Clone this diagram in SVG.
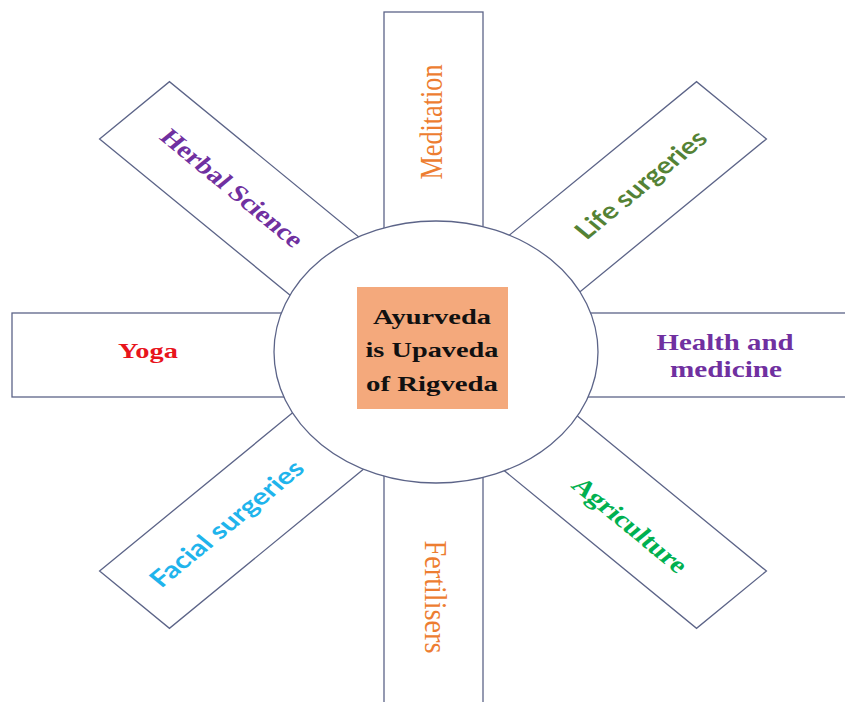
<svg xmlns="http://www.w3.org/2000/svg" width="845" height="702" viewBox="0 0 845 702">
<style>
.box{fill:#fff;stroke:#5C6488;stroke-width:1.3}
.ns{vector-effect:non-scaling-stroke}
.serif{font-family:"Liberation Serif","Times New Roman",serif}
.sans{font-family:Lato,"Liberation Sans",sans-serif}
.b{font-weight:bold}
.c{text-anchor:middle;dominant-baseline:central}
</style>
<rect width="845" height="702" fill="#fff"/>
<g id="meditation">
<rect class="box" x="384" y="12" width="99" height="250"/>
<text class="serif c" font-size="26" fill="#ED7D31" textLength="115" lengthAdjust="spacingAndGlyphs" transform="translate(431,122) scale(1.22,1) rotate(-90)">Meditation</text>
</g>
<g id="fertilisers">
<rect class="box" x="384" y="440" width="99" height="280"/>
<text class="serif c" font-size="26" fill="#ED7D31" textLength="113" lengthAdjust="spacingAndGlyphs" transform="translate(436,597) scale(1.22,1) rotate(90)">Fertilisers</text>
</g>
<g id="yoga">
<rect class="box" x="12" y="313" width="310" height="84"/>
<text class="serif b" x="148" y="358" font-size="22" fill="#E8141C" text-anchor="middle" textLength="60" lengthAdjust="spacingAndGlyphs">Yoga</text>
</g>
<g id="health">
<rect class="box" x="560" y="313" width="300" height="84"/>
<text class="serif b" x="725" y="350" font-size="23" fill="#7030A0" text-anchor="middle" textLength="137" lengthAdjust="spacingAndGlyphs">Health and</text>
<text class="serif b" x="726" y="377" font-size="23" fill="#7030A0" text-anchor="middle" textLength="112" lengthAdjust="spacingAndGlyphs">medicine</text>
</g>
<g id="herbal">
<g transform="translate(433,355) scale(1.22,1) rotate(-135)"><rect class="box ns" x="100" y="-40.5" width="246" height="81"/></g>
<text class="serif b c" font-size="23" fill="#7030A0" textLength="156" lengthAdjust="spacingAndGlyphs" transform="translate(232,188) scale(1.22,1) rotate(45)">Herbal Science</text>
</g>
<g id="life">
<g transform="translate(433,355) scale(1.22,1) rotate(-45)"><rect class="box ns" x="100" y="-40.5" width="246" height="81"/></g>
<text class="sans b c" font-size="23" fill="#548235" textLength="142" lengthAdjust="spacingAndGlyphs" transform="translate(640,184) scale(1.22,1) rotate(-45)">Life surgeries</text>
</g>
<g id="facial">
<g transform="translate(433,355) scale(1.22,1) rotate(135)"><rect class="box ns" x="100" y="-40.5" width="246" height="81"/></g>
<text class="sans b c" font-size="23" fill="#1FB4EC" textLength="168" lengthAdjust="spacingAndGlyphs" transform="translate(226,523) scale(1.22,1) rotate(-45)">Facial surgeries</text>
</g>
<g id="agriculture">
<g transform="translate(433,355) scale(1.22,1) rotate(45)"><rect class="box ns" x="100" y="-40.5" width="246" height="81"/></g>
<text class="serif b c" font-size="23" fill="#00B050" textLength="124" lengthAdjust="spacingAndGlyphs" transform="translate(630,525) scale(1.22,1) rotate(45)">Agriculture</text>
</g>
<g id="center">
<ellipse class="box" cx="436" cy="352" rx="162" ry="131"/>
<rect x="357" y="287" width="151" height="122" fill="#F4A97C"/>
<text class="serif b" x="432" y="324" font-size="22" fill="#111" text-anchor="middle" textLength="118" lengthAdjust="spacingAndGlyphs">Ayurveda</text>
<text class="serif b" x="432" y="357" font-size="22" fill="#111" text-anchor="middle" textLength="133" lengthAdjust="spacingAndGlyphs">is Upaveda</text>
<text class="serif b" x="432" y="391" font-size="22" fill="#111" text-anchor="middle" textLength="132" lengthAdjust="spacingAndGlyphs">of Rigveda</text>
</g>
</svg>
